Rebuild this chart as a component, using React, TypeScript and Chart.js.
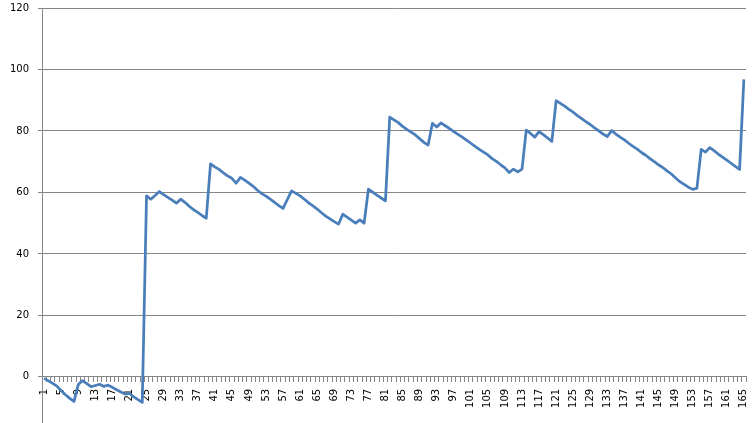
import React, { useEffect, useRef } from "react";
import { Chart, registerables } from "chart.js";

Chart.register(...registerables);

// Series values, split by stretch of the reference line
const seg1 = [-0.5, -1.3, -2.1, -3.0, -4.5, -5.8, -7.0, -8.0, -2.5, -1.2, -2.2, -3.2, -2.8, -2.4, -3.1, -2.7, -3.4, -4.2, -4.9, -5.6, -5.4, -6.5, -7.4, -8.3];
const seg2 = [58.9, 57.8, 59.0, 60.3, 59.3, 58.4, 57.5, 56.5, 57.8, 56.8, 55.5, 54.4, 53.5, 52.5, 51.6];
const seg3 = [69.3, 68.3, 67.5, 66.4, 65.4, 64.6, 63.0, 64.9, 64.0, 63.0, 62.0, 60.7, 59.6, 58.8, 57.8, 56.8, 55.7, 54.8];
const seg4 = [57.7, 60.5, 59.7, 58.9, 57.8, 56.6, 55.6, 54.6, 53.4, 52.3, 51.4, 50.5, 49.7, 52.9, 52.0, 51.0, 50.0, 51.1, 50.0];
const seg5 = [61.1, 60.1, 59.1, 58.2, 57.3];
const seg6 = [84.5, 83.6, 82.7, 81.5, 80.5, 79.6, 78.7, 77.5, 76.3, 75.4, 82.5, 81.3, 82.6, 81.7, 80.8, 79.8, 78.9, 78.0, 77.0, 76.0, 75.0, 74.0, 73.1, 72.2, 71.0, 70.1, 69.0, 68.0, 66.5, 67.6, 66.7, 67.6];
const seg7 = [80.3, 79.2, 78.0, 79.8, 78.8, 77.7, 76.6];
const seg8 = [89.9, 89.0, 88.1, 87.0, 86.1, 85.0, 84.0, 83.0, 82.1, 81.0, 80.0, 79.0, 78.2];
const seg9 = [80.1, 79.0, 78.0, 77.1, 76.0, 75.0, 74.1, 73.0, 72.1, 71.0, 70.0, 69.0, 68.1, 67.0, 66.0, 64.7, 63.5, 62.6, 61.7, 61.0, 61.4];
const seg10 = [74.0, 73.1, 74.6, 73.6, 72.5, 71.5, 70.5, 69.5, 68.5, 67.5, 96.8];

const values = [...seg1, ...seg2, ...seg3, ...seg4, ...seg5, ...seg6, ...seg7, ...seg8, ...seg9, ...seg10];
const categories = values.map((_, i) => String(i + 1));
const yTicks = [0, 20, 40, 60, 80, 100, 120];

export default function App() {
  const ref = useRef<HTMLCanvasElement | null>(null);

  useEffect(() => {
    document.body.style.margin = "0";
    const canvas = ref.current;
    if (!canvas) return;
    const grey = "#868686";
    const font = { family: "'DejaVu Sans', Verdana, sans-serif", size: 10 };
    const chart = new Chart(canvas, {
      type: "line",
      data: {
        labels: categories,
        datasets: [
          {
            data: values,
            borderColor: "#4a7ebb",
            borderWidth: 2.75,
            pointRadius: 0,
            tension: 0,
            borderJoinStyle: "round",
            fill: false,
          },
        ],
      },
      options: {
        responsive: false,
        animation: false,
        layout: { padding: { top: 8, right: 9, left: 0, bottom: 0 } },
        plugins: { legend: { display: false }, tooltip: { enabled: false } },
        scales: {
          x: {
            type: "category",
            position: { y: 0 } as any,
            offset: true,
            grid: {
              offset: true,
              drawOnChartArea: false,
              drawTicks: true,
              tickLength: 5,
              color: grey,
              lineWidth: 1,
            },
            border: { color: grey, width: 1 },
            ticks: {
              autoSkip: false,
              minRotation: 90,
              maxRotation: 90,
              padding: 7,
              color: "#000",
              font,
              callback: (_v: any, i: number) => (i % 4 === 0 ? categories[i] : ""),
            },
            afterFit: (s: any) => {
              s.height = 0;
              s.paddingLeft = 0;
              s.paddingRight = 0;
              s.paddingTop = 0;
              s.paddingBottom = 0;
            },
          },
          y: {
            min: -15,
            max: 120,
            grid: { color: grey, tickLength: 4, drawTicks: true },
            border: { color: grey, width: 1 },
            ticks: { padding: 9, color: "#000", font },
            afterBuildTicks: (s: any) => {
              s.ticks = yTicks.map((v) => ({ value: v }));
            },
            afterFit: (s: any) => {
              s.width = 42;
              s.paddingTop = 0;
              s.paddingBottom = 0;
              s.paddingLeft = 0;
              s.paddingRight = 0;
            },
          },
        },
      },
    });
    return () => chart.destroy();
  }, []);

  return (
    <div style={{ width: 755, height: 423, background: "#fff" }}>
      <canvas ref={ref} width={755} height={423} style={{ display: "block" }} />
    </div>
  );
}
